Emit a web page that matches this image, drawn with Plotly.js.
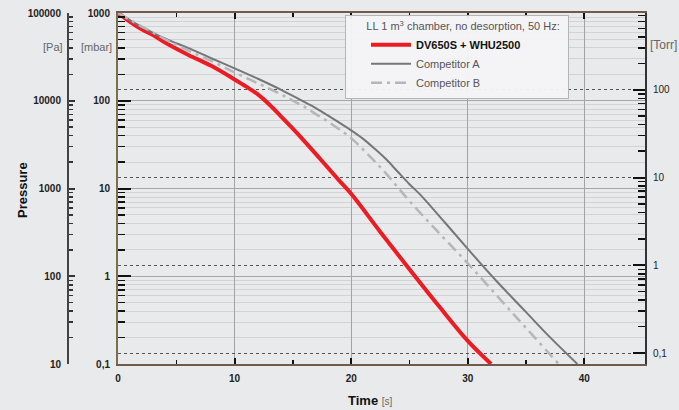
<!DOCTYPE html>
<html>
<head>
<meta charset="utf-8">
<script src="https://cdn.plot.ly/plotly-3.0.1.min.js"></script>
<style>html,body{margin:0;padding:0;background:#e9eaec;}#chart{width:679px;height:410px;}</style>
</head>
<body>
<div id="chart"></div>
<script>
// ---- data (pressure in mbar, time in s) ----
const timeDV = [0, 1, 2, 3, 4.3, 6, 8, 10, 11, 12, 13, 14, 15, 16, 17, 18, 19, 20, 22.5, 25, 27.5, 30, 32];
const pressureDV = [1000, 800, 655, 560, 440, 335, 250, 175, 145, 118, 90, 66, 48, 34.5, 24.5, 17.3, 12.2, 8.7, 3.2, 1.2, 0.46, 0.183, 0.1];
const timeA = [0, 1, 2, 3, 4.3, 6, 8, 10, 12, 14, 15.6, 17, 18, 19, 20, 21, 22, 23, 24, 25, 26, 28, 30, 32.4, 35, 37, 39.4];
const pressureA = [1000, 830, 700, 595, 495, 400, 305, 234, 178, 133, 103, 82, 68, 56, 46, 37, 28.5, 21.5, 15.5, 11.2, 8.3, 4.15, 2.05, 0.9, 0.39, 0.205, 0.1];
const timeB = [0, 1, 2, 3, 4.3, 6, 8, 10, 12, 14, 15, 16, 17, 18, 19, 20, 21, 22, 23, 24, 25, 27, 30, 34, 37.8];
const pressureB = [1000, 840, 705, 600, 480, 375, 285, 210, 158, 118, 100, 85, 70, 58, 47, 37.5, 28, 20.5, 14.8, 10.3, 7.2, 3.7, 1.4, 0.36, 0.1];

const seriesNames = ['DV650S + WHU2500', 'Competitor A', 'Competitor B'];
const legendTitle = 'LL 1 m<sup>3</sup> chamber, no desorption, 50 Hz:';

const xTicks = [0, 10, 20, 30, 40];
const xMinorTicks = [5, 15, 25, 35];
const mbarTicks = [0.1, 1, 10, 100, 1000];
const mbarLabels = ['0,1', '1', '10', '100', '1000'];
const torrTicks = [0.1, 1, 10, 100];
const torrLabels = ['0,1', '1', '10', '100'];
const paTicks = [10, 100, 1000, 10000, 100000];
const paLabels = ['10', '100', '1000', '10000', '100000'];

const MBAR_PER_TORR = 1.33322;
const PA_PER_MBAR = 100;

function minorsFor(decades) {
  const out = [];
  decades.forEach(d => { for (let k = 2; k <= 9; k++) out.push(d * k); });
  return out;
}

const FONT = 'Liberation Sans, Arial, Helvetica, sans-serif';
const SM = 1.0;

const traces = [
  {x: timeDV, y: pressureDV, name: '<span style="color:#111"><b>' + seriesNames[0] + '</b></span>',
   mode: 'lines', line: {color: '#ec1c24', width: 4, shape: 'spline', smoothing: SM}, yaxis: 'y'},
  {x: timeA, y: pressureA, name: seriesNames[1],
   mode: 'lines', line: {color: '#76767b', width: 2, shape: 'spline', smoothing: SM}, yaxis: 'y'},
  {x: timeB, y: pressureB, name: seriesNames[2],
   mode: 'lines', line: {color: '#b6b6b9', width: 2.5, dash: '11px,5px,3px,5px', shape: 'spline', smoothing: SM}, yaxis: 'y'},
  // same series on the Torr and Pa scales (invisible; they only carry the extra axes)
  {x: timeDV, y: pressureDV.map(v => v / MBAR_PER_TORR), mode: 'lines', line: {width: 0},
   opacity: 0, showlegend: false, hoverinfo: 'skip', yaxis: 'y2'},
  {x: timeDV, y: pressureDV.map(v => v * PA_PER_MBAR), mode: 'lines', line: {width: 0},
   opacity: 0, showlegend: false, hoverinfo: 'skip', yaxis: 'y3'}
];

const L = 40, R = 34, T = 13, B = 46, W = 679, H = 410;
const pw = W - L - R, ph = H - T - B;
const px = v => (v - L) / pw;
const py = v => (H - B - v) / ph;

const torrOffset = Math.log10(MBAR_PER_TORR);

const layout = {
  width: W, height: H,
  margin: {l: L, r: R, t: T, b: B, pad: 0},
  paper_bgcolor: '#e9eaec',
  plot_bgcolor: '#e9eaec',
  font: {family: FONT, size: 10, color: '#222'},
  showlegend: true,
  xaxis: {
    domain: [px(118), 1], range: [0, 45.2], anchor: 'y',
    tickmode: 'array', tickvals: xTicks, ticktext: xTicks.map(String),
    ticks: 'inside', ticklen: 6, tickwidth: 2, tickcolor: '#111',
    showline: true, linecolor: '#6f5a4c', linewidth: 2, mirror: 'ticks',
    showgrid: true, gridcolor: '#a3a3a7', gridwidth: 1, zeroline: false,
    minor: {tickmode: 'array', tickvals: xMinorTicks, ticks: 'inside', ticklen: 4, tickwidth: 1.5, tickcolor: '#111', showgrid: false},
    tickfont: {size: 10, family: FONT, weight: 'bold', color: '#222'},
    ticklabelstandoff: 4
  },
  yaxis: {
    type: 'log', range: [-1, 3], anchor: 'x', side: 'left',
    tickmode: 'array', tickvals: mbarTicks, ticktext: mbarLabels,
    ticks: 'inside', ticklen: 13, tickwidth: 2, tickcolor: '#111',
    showline: true, linecolor: '#7a6d50', linewidth: 2,
    showgrid: true, gridcolor: '#a6a6aa', gridwidth: 1, zeroline: false,
    minor: {tickmode: 'array', tickvals: minorsFor([0.1, 1, 10, 100]), ticks: 'inside', ticklen: 7, tickwidth: 1.5, tickcolor: '#111',
            showgrid: true, gridcolor: '#d3d3d7', gridwidth: 1},
    tickfont: {size: 10, family: FONT, weight: 'bold', color: '#222'},
    ticklabelstandoff: 4
  },
  yaxis2: {
    type: 'log', range: [-1 - torrOffset, 3 - torrOffset], overlaying: 'y', anchor: 'x', side: 'right',
    tickmode: 'array', tickvals: torrTicks, ticktext: torrLabels,
    ticks: 'inside', ticklen: 12, tickwidth: 2, tickcolor: '#111',
    showline: true, linecolor: '#333', linewidth: 2,
    showgrid: true, gridcolor: '#555', gridwidth: 1, griddash: 'dot', zeroline: false,
    minor: {tickmode: 'array', tickvals: minorsFor([0.1, 1, 10, 100]).filter(v => v < 750), ticks: 'inside', ticklen: 7, tickwidth: 1.5, tickcolor: '#111', showgrid: false},
    tickfont: {size: 10, family: FONT, color: '#222'},
    ticklabelstandoff: 4
  },
  yaxis3: {
    type: 'log', range: [1, 5], overlaying: 'y', anchor: 'free', position: px(68), side: 'left',
    tickmode: 'array', tickvals: paTicks, ticktext: paLabels,
    ticks: 'inside', ticklen: 6, tickwidth: 2, tickcolor: '#333',
    showline: true, linecolor: '#444', linewidth: 2,
    showgrid: false, zeroline: false,
    minor: {tickmode: 'array', tickvals: minorsFor([10, 100, 1000, 10000]), ticks: 'inside', ticklen: 4, tickwidth: 1.5, tickcolor: '#333', showgrid: false},
    tickfont: {size: 10, family: FONT, weight: 'bold', color: '#222'},
    ticklabelstandoff: 4
  },
  legend: {
    x: px(345), y: py(15), xanchor: 'left', yanchor: 'top',
    bgcolor: 'rgba(244,244,246,0.96)', bordercolor: '#b4b4b8', borderwidth: 1,
    font: {family: FONT, size: 11, color: '#555'},
    title: {text: '&nbsp;&nbsp;&nbsp;&nbsp;&nbsp;&nbsp;' + legendTitle + '&nbsp;&nbsp;', font: {family: FONT, size: 11, color: '#555'}},
    indentation: 20, itemwidth: 40, tracegroupgap: 0
  },
  annotations: [
    {text: '[Pa]', xref: 'paper', yref: 'paper', x: px(65), y: py(47), xanchor: 'right', yanchor: 'middle',
     showarrow: false, font: {family: FONT, size: 11, color: '#666'}},
    {text: '[mbar]', xref: 'paper', yref: 'paper', x: px(114), y: py(47), xanchor: 'right', yanchor: 'middle',
     showarrow: false, font: {family: FONT, size: 11, color: '#666'}},
    {text: '[Torr]', xref: 'paper', yref: 'paper', x: px(648), y: py(45), xanchor: 'left', yanchor: 'middle',
     showarrow: false, font: {family: FONT, size: 12, color: '#666'}},
    {text: '<b>Pressure</b>', xref: 'paper', yref: 'paper', x: px(22), y: py(190), xanchor: 'center', yanchor: 'middle',
     textangle: -90, showarrow: false, font: {family: FONT, size: 13, color: '#111'}},
    {text: '<b>Time</b> <span style="font-size:10px;color:#666">[s]</span>', xref: 'paper', yref: 'paper',
     x: px(370), y: py(400), xanchor: 'center', yanchor: 'middle',
     showarrow: false, font: {family: FONT, size: 13, color: '#111'}}
  ]
};

Plotly.newPlot('chart', traces, layout, {staticPlot: true, displayModeBar: false});
</script>
</body>
</html>
